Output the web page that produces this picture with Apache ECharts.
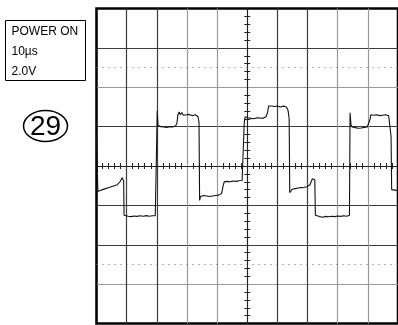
<!DOCTYPE html>
<html>
<head>
<meta charset="utf-8">
<script src="https://cdn.jsdelivr.net/npm/echarts@6/dist/echarts.min.js"></script>
<style>
html,body{margin:0;padding:0;background:#fff;}
#c{width:398px;height:325px;}
</style>
</head>
<body>
<div id="c"></div>
<script>
// Panel text
const panelLines = ['POWER ON', '10\u00b5s', '2.0V'];
const figureNumber = '29';

// Scope settings: 10 us/div (10 divisions), 2.0 V/div (8 divisions)
const timeMin = 0, timeMax = 100, timeDiv = 10;
const voltMin = -8, voltMax = 8, voltDiv = 2;
const dottedLevels = [5, -5];

// Trace (time in us, level in V)
const times = [
  0.0, 0.35, 0.45, 0.8, 1.2, 1.6, 2.0, 2.5, 3.0, 3.4, 3.9, 4.4, 4.9, 5.4, 5.9, 6.4, 6.9, 7.4, 7.8, 8.2, 8.5, 8.8, 9.0,
  9.15, 9.5, 10.5, 11.5, 12.5, 13.5, 14.5, 15.5, 16.5, 17.5, 18.5, 19.5, 20.0,
  20.15, 20.4, 20.8, 21.3, 21.8, 22.3, 22.8, 23.3, 23.8, 24.3, 24.8, 25.3, 25.8, 26.3, 26.7,
  27.0, 27.4, 27.8, 28.3, 28.8, 29.3, 29.8, 30.3, 30.8, 31.3, 31.8, 32.3, 32.8, 33.3, 33.7, 34.0,
  34.2, 34.5, 35.0, 35.5, 36.0, 36.5, 37.0, 37.5, 38.0, 38.5, 39.0, 39.5, 40.0, 40.5, 41.0, 41.5,
  42.0, 42.4, 42.8, 43.3, 43.8, 44.3, 44.8, 45.3, 45.8, 46.3, 46.8, 47.3, 47.8, 48.3, 48.7,
  49.0, 49.3, 49.7, 50.2, 50.7, 51.2, 51.7, 52.2, 52.7, 53.2, 53.7, 54.2, 54.7, 55.2, 55.7, 56.2, 56.7,
  57.1, 57.5, 58.0, 58.5, 59.0, 59.5, 60.0, 60.5, 61.0, 61.5, 62.0, 62.5, 63.0, 63.5, 63.9,
  64.1, 64.4, 64.9, 65.4, 65.9, 66.4, 66.9, 67.4, 67.9, 68.4, 68.9, 69.4, 69.9, 70.4, 70.8, 71.2, 71.6, 72.0, 72.4,
  72.6, 73.0, 74.0, 75.0, 76.0, 77.0, 78.0, 79.0, 80.0, 81.0, 82.0, 83.0, 83.9,
  84.1, 84.4, 84.8, 85.3, 85.8, 86.3, 86.8, 87.3, 87.8, 88.3, 88.8, 89.3, 89.8, 90.3, 90.7,
  91.0, 91.4, 91.9, 92.4, 92.9, 93.4, 93.9, 94.4, 94.9, 95.4, 95.9, 96.4, 96.9, 97.3, 97.7,
  97.9, 98.5, 100.0
];
const volts = [
  1.65, 1.6, -1.3, -1.4, -1.25, -1.35, -1.2, -1.3, -1.15, -1.25, -1.1, -1.2, -1.05, -1.15, -1.0, -1.1, -0.95, -1.0, -0.8, -0.85, -0.6, -0.5, -0.75,
  -2.5, -2.58, -2.55, -2.57, -2.54, -2.56, -2.53, -2.55, -2.52, -2.55, -2.53, -2.52, -2.5,
  2.8, 2.05, 1.95, 2.0, 1.9, 1.98, 1.88, 1.96, 1.9, 2.0, 1.92, 1.98, 1.95, 2.05, 2.2,
  2.6, 2.75, 2.6, 2.72, 2.58, 2.68, 2.6, 2.7, 2.62, 2.66, 2.55, 2.65, 2.6, 2.62, 2.5, 2.2,
  -1.75, -1.55, -1.62, -1.5, -1.58, -1.52, -1.6, -1.55, -1.62, -1.52, -1.6, -1.5, -1.57, -1.48, -1.55, -1.4,
  -1.0, -0.8, -0.85, -0.78, -0.86, -0.8, -0.84, -0.76, -0.82, -0.78, -0.84, -0.75, -0.8, -0.74, -0.7,
  2.2, 2.5, 2.4, 2.45, 2.35, 2.42, 2.33, 2.4, 2.35, 2.45, 2.38, 2.44, 2.36, 2.42, 2.4, 2.5, 2.7,
  3.05, 3.15, 3.05, 3.12, 3.02, 3.1, 3.05, 3.12, 3.0, 3.08, 3.04, 3.1, 3.0, 2.85, 2.4,
  -1.35, -1.25, -1.18, -1.25, -1.15, -1.22, -1.12, -1.2, -1.1, -1.18, -1.08, -1.15, -1.05, -1.1, -0.95, -0.85, -0.65, -0.55, -0.7,
  -2.5, -2.6, -2.57, -2.6, -2.56, -2.58, -2.55, -2.57, -2.54, -2.56, -2.53, -2.55, -2.5,
  2.7, 2.1, 1.98, 2.05, 1.95, 2.02, 1.92, 2.0, 1.93, 2.03, 1.96, 2.0, 1.98, 2.08, 2.35,
  2.6, 2.7, 2.58, 2.68, 2.6, 2.66, 2.56, 2.64, 2.58, 2.65, 2.6, 2.62, 2.55, 2.45, 1.5,
  -1.2, -1.3, -1.25
];

const dark = '#3c3c3c', light = '#999999', edge = '#000';
const xLineColors = [edge, dark, dark, light, light, dark, dark, dark, light, light, edge];
const yLineColors = [edge, light, dark, dark, dark, dark, light, dark, edge];

const tMid = (timeMin + timeMax) / 2;
const traceData = times.map((t, i) => [t - tMid, volts[i]]);

const chart = echarts.init(document.getElementById('c'), null, {renderer: 'canvas'});

function xAx(pos, withSplit) {
  return {
    type: 'value', position: pos,
    min: timeMin - tMid, max: timeMax - tMid, interval: timeDiv,
    axisLine: {show: true, onZero: true, onZeroAxisIndex: 0, lineStyle: {color: '#222', width: 1}},
    axisTick: {show: false},
    minorTick: {show: true, splitNumber: 5, length: 3, lineStyle: {color: '#222', width: 1}},
    axisLabel: {show: false},
    splitLine: {show: withSplit, lineStyle: {color: xLineColors, width: 1.2}},
    minorSplitLine: {show: false}
  };
}
function yAx(pos, withSplit) {
  return {
    type: 'value', position: pos,
    min: voltMin, max: voltMax, interval: voltDiv,
    axisLine: {show: true, onZero: true, onZeroAxisIndex: 0, lineStyle: {color: '#222', width: 1}},
    axisTick: {show: false},
    minorTick: {show: true, splitNumber: 5, length: 3, lineStyle: {color: '#222', width: 1}},
    axisLabel: {show: false},
    splitLine: {show: withSplit, lineStyle: {color: yLineColors, width: 1.2}},
    minorSplitLine: {show: false}
  };
}

const textStyle = {fontFamily: 'Liberation Sans', fontSize: 12, fill: '#000'};

chart.setOption({
  animation: false,
  backgroundColor: '#fff',
  grid: {
    left: 96.5, top: 8.5, width: 308, height: 315,
    show: true, borderColor: '#000', borderWidth: 2.5, backgroundColor: 'transparent'
  },
  xAxis: [xAx('bottom', true), xAx('top', false)],
  yAxis: [yAx('left', true), yAx('right', false)],
  series: [{
    type: 'line',
    xAxisIndex: 0, yAxisIndex: 0,
    data: traceData,
    showSymbol: false,
    symbol: 'none',
    lineStyle: {color: '#111', width: 1.1},
    markLine: {
      silent: true, symbol: 'none', label: {show: false},
      lineStyle: {color: '#666', width: 1, type: [1, 5]},
      data: dottedLevels.map(v => ({yAxis: v}))
    },
    z: 5
  }],
  graphic: [
    {type: 'rect', shape: {x: 5.5, y: 20.5, width: 80, height: 60}, style: {fill: 'none', stroke: '#000', lineWidth: 1}},
    {type: 'text', x: 11.5, y: 31.5, style: Object.assign({text: panelLines[0], textVerticalAlign: 'middle'}, textStyle)},
    {type: 'text', x: 11.5, y: 52, style: Object.assign({text: panelLines[1], textVerticalAlign: 'middle'}, textStyle)},
    {type: 'text', x: 11.5, y: 72, style: Object.assign({text: panelLines[2], textVerticalAlign: 'middle'}, textStyle)},
    {type: 'ellipse', shape: {cx: 45.5, cy: 126, rx: 22, ry: 15.5}, style: {fill: 'none', stroke: '#000', lineWidth: 1.5}},
    {type: 'text', x: 45.5, y: 127, style: {text: figureNumber, fontFamily: 'Liberation Sans', fontSize: 28, fill: '#000', textAlign: 'center', textVerticalAlign: 'middle'}}
  ]
});
</script>
</body>
</html>
